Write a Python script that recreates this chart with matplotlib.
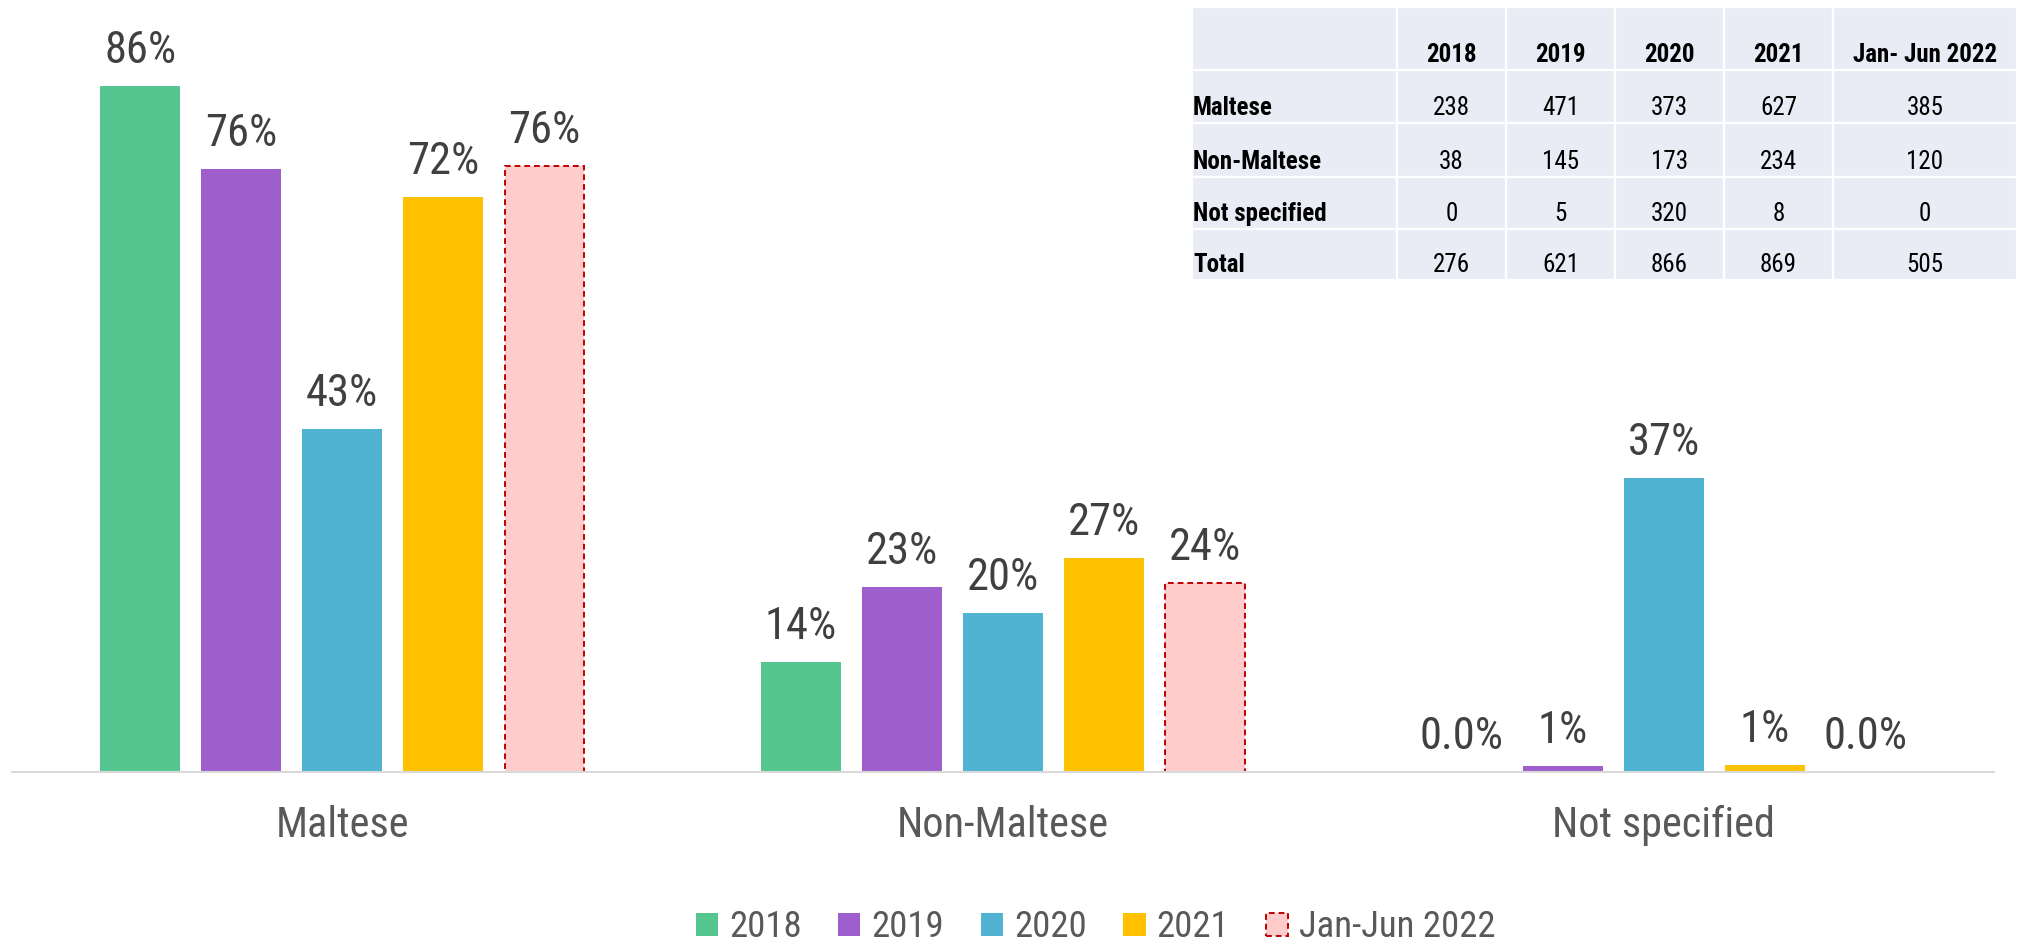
import matplotlib
matplotlib.use("Agg")
import matplotlib.pyplot as plt
from matplotlib import font_manager
from matplotlib.patches import Rectangle
import numpy as np

#####################################################################
# data:
categories = ["Maltese", "Non-Maltese", "Not specified"]
series = ["2018", "2019", "2020", "2021", "Jan-Jun 2022"]

pct_2018 = [86.2, 13.8, 0.0]
pct_2019 = [75.8, 23.3, 0.8]
pct_2020 = [43.1, 20.0, 37.0]
pct_2021 = [72.2, 26.9, 0.9]
pct_2022 = [76.2, 23.8, 0.0]

lab_2018 = ["86%", "14%", "0.0%"]
lab_2019 = ["76%", "23%", "1%"]
lab_2020 = ["43%", "20%", "37%"]
lab_2021 = ["72%", "27%", "1%"]
lab_2022 = ["76%", "24%", "0.0%"]

# table in the corner:
table_cols = ["2018", "2019", "2020", "2021", "Jan- Jun 2022"]
table_rows = ["Maltese", "Non-Maltese", "Not specified", "Total"]
cnt_maltese = [238, 471, 373, 627, 385]
cnt_non_maltese = [38, 145, 173, 234, 120]
cnt_not_spec = [0, 5, 320, 8, 0]
cnt_total = [276, 621, 866, 869, 505]

#####################################################################
# style:
avail = {f.name for f in font_manager.fontManager.ttflist}
font = "DejaVu Sans"
for f in ["Liberation Sans Narrow", "Roboto Condensed", "Roboto"]:
    if f in avail:
        font = f
        break
plt.rcParams["font.family"] = [font, "DejaVu Sans"]

colors = ["#55C68F", "#9E5ECC", "#4FB3D1", "#FFC000", "#FFCCCC"]
W, H = 2029, 944

#####################################################################
# plot:
fig = plt.figure(figsize=(W / 100, H / 100), dpi=100)
ax = fig.add_axes([12 / W, (H - 772) / H, (1994 - 12) / W, 772 / H])

pcts = [pct_2018, pct_2019, pct_2020, pct_2021, pct_2022]
labs = [lab_2018, lab_2019, lab_2020, lab_2021, lab_2022]
x = np.arange(len(categories))
step, width = 0.153, 0.121

for i, (name, vals, labels) in enumerate(zip(series, pcts, labs)):
    pos = x + (i - 2) * step
    if i == 4:
        bars = ax.bar(pos, vals, width, color=colors[i], edgecolor="#C00000",
                      linewidth=1.4, linestyle=(0, (3, 2)), label=name)
    else:
        bars = ax.bar(pos, vals, width, color=colors[i], label=name)
    for p, v, t in zip(pos, vals, labels):
        ax.annotate(t, xy=(p, v), xytext=(0, 16.5), textcoords="offset points",
                    ha="center", va="baseline", fontsize=32, color="#404040")

ax.set_xlim(-0.5, 2.5)
ax.set_ylim(0, 97)
ax.set_yticks([])
ax.set_xticks(x)
ax.set_xticklabels(categories, fontsize=30.5, color="#595959")
ax.tick_params(axis="x", length=0, pad=24)
for s in ["top", "left", "right"]:
    ax.spines[s].set_visible(False)
ax.spines["bottom"].set_color("#D9D9D9")
ax.spines["bottom"].set_linewidth(1.5)

fig.legend(loc="center", bbox_to_anchor=(0.54, 0.0175), ncol=5, frameon=False,
           fontsize=26.5, labelcolor="#595959", handlelength=0.6, handleheight=0.6,
           handletextpad=0.3, columnspacing=1.0, borderpad=0)

#####################################################################
# table:
tax = fig.add_axes([1192 / W, 1 - 280 / H, 825 / W, 273 / H])
tax.set_xlim(0, 825)
tax.set_ylim(273, 0)
tax.axis("off")
col_edges = [0, 205, 314, 423, 532, 641, 825]
row_edges = [0, 63, 116, 170, 222, 273]

cells = [[""] + table_cols]
for r, vals in zip(table_rows, [cnt_maltese, cnt_non_maltese, cnt_not_spec, cnt_total]):
    cells.append([r] + [str(v) for v in vals])

for i, row in enumerate(cells):
    y0, y1 = row_edges[i], row_edges[i + 1]
    for j, txt in enumerate(row):
        x0, x1 = col_edges[j], col_edges[j + 1]
        tax.add_patch(Rectangle((x0, y0), x1 - x0, y1 - y0, facecolor="#E9EBF5",
                                edgecolor="white", linewidth=1.6))
        if not txt:
            continue
        bold = (i == 0) or (j == 0)
        if j == 0:
            tax.text(x0 + 1, y1 - 8, txt, ha="left", va="baseline", fontsize=18,
                     fontweight="bold", color="black")
        else:
            tax.text((x0 + x1) / 2, y1 - 8, txt, ha="center", va="baseline",
                     fontsize=18, fontweight="bold" if bold else "normal", color="black")

fig.savefig("out.png", dpi=100)
